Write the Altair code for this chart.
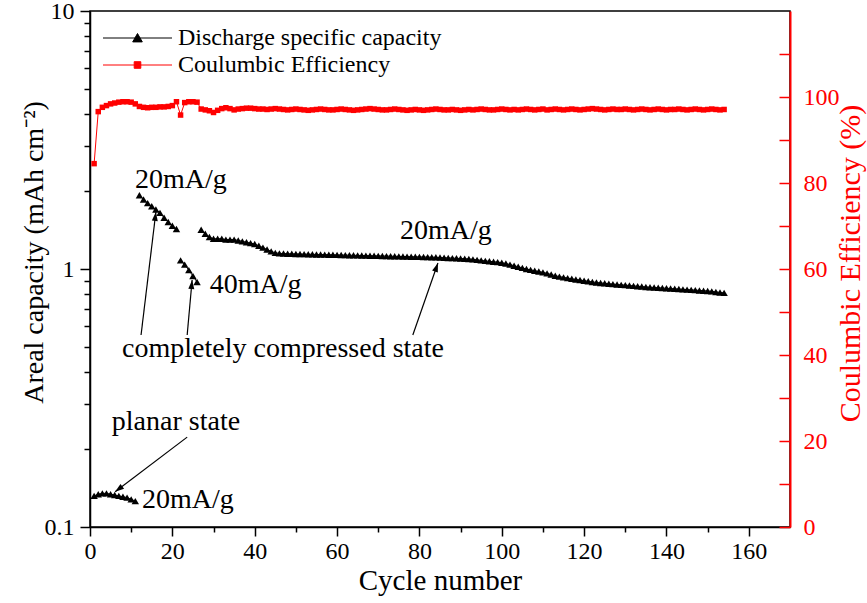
import math
import altair as alt
import pandas as pd

FONT = "Liberation Serif"

# ---------------- data ----------------
planar_cycles = list(range(1, 12))
planar_cap = [0.132, 0.134, 0.135, 0.135, 0.134, 0.133, 0.132, 0.131, 0.130, 0.128, 0.126]

comp1_cycles = list(range(12, 22))
comp1_cap = [1.93, 1.86, 1.80, 1.75, 1.70, 1.65, 1.58, 1.52, 1.47, 1.43]

comp40_cycles = list(range(22, 27))
comp40_cap = [1.08, 1.04, 0.99, 0.94, 0.89]

comp2_cycles = list(range(27, 155))
comp2_cap = [
    1.42, 1.37, 1.33, 1.31, 1.31, 1.31, 1.30, 1.30, 1.30, 1.29,
    1.28, 1.27, 1.26, 1.25, 1.23, 1.21, 1.19, 1.17, 1.155, 1.15,
    1.148, 1.146, 1.145, 1.144, 1.143, 1.142, 1.141, 1.140, 1.139, 1.138,
    1.137, 1.136, 1.135, 1.134, 1.133, 1.132, 1.131, 1.130, 1.129, 1.128,
    1.127, 1.126, 1.125, 1.124, 1.123, 1.122, 1.121, 1.120, 1.119, 1.118,
    1.117, 1.116, 1.115, 1.114, 1.113, 1.112, 1.111, 1.110, 1.108, 1.106,
    1.104, 1.102, 1.100, 1.098, 1.096, 1.094, 1.090, 1.085, 1.080, 1.075,
    1.071, 1.067, 1.063, 1.058, 1.050, 1.040, 1.030, 1.020, 1.010, 1.000,
    0.992, 0.985, 0.978, 0.970, 0.962, 0.952, 0.942, 0.934, 0.928, 0.922,
    0.916, 0.911, 0.906, 0.901, 0.896, 0.891, 0.887, 0.883, 0.880, 0.877,
    0.874, 0.871, 0.868, 0.866, 0.863, 0.860, 0.857, 0.855, 0.852, 0.850,
    0.848, 0.846, 0.844, 0.842, 0.840, 0.838, 0.836, 0.834, 0.832, 0.830,
    0.828, 0.826, 0.824, 0.822, 0.819, 0.815, 0.811, 0.808,
]

ce_cycles = list(range(1, 155))
ce_values = [
    84.5, 96.6, 97.6, 98.0, 98.4, 98.6, 98.8, 98.9, 98.9, 98.8,
    98.4, 97.8, 97.6, 97.5, 97.6, 97.6, 97.7, 97.7, 97.8, 98.0,
    98.9, 95.8, 98.7, 98.9, 98.9, 98.8, 97.2, 97.0, 96.8, 96.4,
    96.9, 97.3, 97.5, 97.3, 97.0, 97.2,
    97.3, 97.4, 97.4, 97.3, 97.2, 97.2, 97.1, 97.2, 97.3, 97.2,
    97.1, 97.0, 97.1, 97.2, 97.1, 97.0, 96.9, 97.0, 97.1, 97.2,
    97.1, 97.0, 97.0, 97.1, 97.2, 97.1, 97.0, 96.9, 97.0, 97.1,
    97.2, 97.3, 97.2, 97.1, 97.0, 97.0, 97.1, 97.2, 97.1, 97.0,
    96.9, 97.0, 97.1, 97.0, 96.9, 97.0, 97.1, 97.2, 97.1, 97.0,
    97.0, 97.1, 97.0, 96.9, 97.0, 97.1, 97.0, 97.1, 97.2, 97.1,
    97.0, 97.0, 97.1, 97.2, 97.1, 97.0, 97.1, 97.0, 97.1, 97.2,
    97.1, 97.0, 97.1, 97.2, 97.0, 97.1, 97.2, 97.1, 97.0, 97.1,
    97.2, 97.1, 97.0, 97.1, 97.2, 97.3, 97.2, 97.1, 97.0, 97.1,
    97.2, 97.1, 97.1, 97.2, 97.1, 97.0, 97.1, 97.2, 97.1, 97.0,
    97.1, 97.2, 97.1, 97.0, 97.1, 97.1, 97.2, 97.1, 97.0, 97.1,
    97.2, 97.1, 97.0, 97.1, 97.2, 97.1, 97.0, 97.1,
]

CAP_NAME = "Discharge specific capacity"
CE_NAME = "Coulumbic Efficiency"

# annotations (data coordinates: cycle, capacity)
ann_text = ["20mA/g", "40mA/g", "20mA/g", "completely compressed state", "planar state", "20mA/g"]
ann_x = [10.9, 29.1, 75.3, 7.8, 5.3, 12.6]
ann_y = [2.06, 0.807, 1.307, 0.456, 0.238, 0.1185]

arrow_x1 = [12.4, 23.6, 78.4, 23.6]
arrow_y1 = [0.555, 0.555, 0.555, 0.223]
arrow_x2 = [16.0, 24.8, 84.5, 6.1]
arrow_y2 = [1.663, 0.907, 1.055, 0.137]

# ---------------- layout ----------------
W, H = 700, 516
XMAX = 170

cap_rows = []
for seg, (cs, vs) in enumerate([(planar_cycles, planar_cap), (comp1_cycles, comp1_cap),
                                (comp40_cycles, comp40_cap), (comp2_cycles, comp2_cap)]):
    for c, v in zip(cs, vs):
        cap_rows.append({"cycle": c, "cap": v, "segment": seg, "series": CAP_NAME})
cap_df = pd.DataFrame(cap_rows)
ce_df = pd.DataFrame({"cycle": ce_cycles, "ce": ce_values, "series": CE_NAME})

def px_x(c):
    return c / XMAX * W

def px_y(v):
    return H * (1 - (math.log10(v) + 1) / 2)

arrow_angle = []
for x1, y1, x2, y2 in zip(arrow_x1, arrow_y1, arrow_x2, arrow_y2):
    dx = px_x(x2) - px_x(x1)
    dy = px_y(y2) - px_y(y1)
    arrow_angle.append(math.degrees(math.atan2(dx, -dy)) % 360)

ann_df = pd.DataFrame({"x": ann_x, "y": ann_y, "text": ann_text})
arrow_df = pd.DataFrame({"x1": arrow_x1, "y1": arrow_y1, "x2": arrow_x2,
                         "y2": arrow_y2, "angle": arrow_angle})

xscale = alt.Scale(domain=[0, XMAX], nice=False, zero=False)
yscale = alt.Scale(type="log", domain=[0.1, 10], nice=False)
cescale = alt.Scale(domain=[0, 120], nice=False, zero=False)

x_axis = alt.Axis(orient="bottom", values=list(range(0, 161, 20)), title="Cycle number",
                  tickSize=9, tickWidth=1.5, domainWidth=1.5, labelFlush=False,
                  labelPadding=3, labelFont=FONT, labelFontSize=24,
                  titleFont=FONT, titleFontSize=29, titleFontWeight="normal",
                  titleBaseline="alphabetic", titleY=62, grid=False, labelOverlap=False)
y_axis = alt.Axis(orient="left", values=[0.1, 1, 10], format="~g",
                  title="Areal capacity (mAh cm\u207b\u00b2)",
                  tickSize=10, tickWidth=1.5, domainWidth=1.5, labelFlush=False,
                  labelPadding=6, labelFont=FONT, labelFontSize=24,
                  titleFont=FONT, titleFontSize=28, titleFontWeight="normal", titleAngle=270,
                  titleX=-56, titleY=241, titleAlign="center", titleBaseline="middle",
                  grid=False, labelOverlap=False)

def X(field):
    return alt.X(f"{field}:Q", scale=xscale, axis=x_axis)

def Y(field):
    return alt.Y(f"{field}:Q", scale=yscale, axis=y_axis)

TRI_PATH = "M-5.75,0H5.75M-0.8,0.65L0,-0.75L0.8,0.65Z"
SQ_PATH = "M-5.75,0H5.75M-0.55,-0.55H0.55V0.55H-0.55Z"

def legend(ypos, path, col):
    return alt.Legend(title=None, orient="none", legendX=35.5, legendY=ypos,
                      symbolType=path, symbolSize=144, symbolStrokeWidth=1,
                      symbolFillColor=col, symbolStrokeColor=col, labelFont=FONT,
                      labelFontSize=24, labelOffset=28.5, labelLimit=0, padding=0,
                      labelColor="black")

cap_line = alt.Chart(cap_df).mark_line(
    strokeWidth=1,
    point=alt.OverlayMarkDef(shape="triangle-up", size=55, filled=True, opacity=1),
).encode(
    x=X("cycle"),
    y=Y("cap"),
    detail="segment:N",
    color=alt.Color("series:N", scale=alt.Scale(domain=[CAP_NAME], range=["black"]),
                    legend=legend(15, TRI_PATH, "black")),
)

ann_chart = alt.Chart(ann_df).mark_text(
    font=FONT, fontSize=28, align="left", baseline="alphabetic", color="black"
).encode(x=X("x"), y=Y("y"), text="text:N")

arrow_lines = alt.Chart(arrow_df).mark_rule(color="black", strokeWidth=1.2).encode(
    x=X("x1"), y=Y("y1"), x2="x2:Q", y2="y2:Q")

arrow_heads = alt.Chart(arrow_df).mark_point(
    shape="M0,0L-1,3L1,3Z", size=36, filled=True, color="black", opacity=1
).encode(x=X("x2"), y=Y("y2"), angle=alt.Angle("angle:Q", scale=None))

cap_group = alt.layer(cap_line, arrow_lines, arrow_heads, ann_chart)

ce_axis = alt.Axis(orient="right", offset=-11, domain=False, values=list(range(0, 111, 10)),
                   tickSize=11, tickWidth=1.5, tickColor="red", labelColor="red",
                   labelExpr="datum.value % 20 == 0 ? datum.label : ''",
                   labelPadding=13, labelFont=FONT, labelFontSize=24, labelFlush=False,
                   labelOverlap=False, title="Coulumbic Efficiency (%)", titleColor="red",
                   titleFont=FONT, titleFontSize=30, titleFontWeight="normal",
                   titleAngle=270, titleX=71, titleY=252, titleAlign="center",
                   titleBaseline="middle", grid=False)

ce_chart = alt.Chart(ce_df).mark_line(
    strokeWidth=1,
    point=alt.OverlayMarkDef(shape="square", size=30, filled=True, opacity=1),
).encode(
    x=alt.X("cycle:Q", scale=xscale, axis=None),
    y=alt.Y("ce:Q", scale=cescale, axis=ce_axis),
    color=alt.Color("series:N", scale=alt.Scale(domain=[CE_NAME], range=["red"]),
                    legend=legend(42, SQ_PATH, "red")),
)

minor_chart = alt.Chart(cap_df).mark_point(opacity=0).encode(
    x=alt.X("cycle:Q", scale=xscale,
            axis=alt.Axis(orient="bottom", values=list(range(10, 151, 20)), labels=False,
                          tickSize=5, tickWidth=1.5, domain=False, title=None, grid=False)),
    y=alt.Y("cap:Q", scale=yscale,
            axis=alt.Axis(orient="left",
                          values=[0.2, 0.3, 0.4, 0.5, 0.6, 0.7, 0.8, 0.9, 2, 3, 4, 5, 6, 7, 8, 9],
                          labels=False, tickSize=6, tickWidth=1.5, domain=False,
                          title=None, grid=False)),
)

red_domain = alt.Chart(ce_df).mark_point(opacity=0).encode(
    x=alt.X("cycle:Q", scale=xscale, axis=None),
    y=alt.Y("ce:Q", scale=cescale,
            axis=alt.Axis(orient="right", domain=True, domainColor="red", domainWidth=2,
                          ticks=False, labels=False, title=None, grid=False)),
)

chart = alt.layer(cap_group, ce_chart, minor_chart, red_domain).resolve_scale(
    x="independent", y="independent", color="independent"
).properties(
    width=W, height=H,
    autosize=alt.AutoSizeParams(type="none"),
    padding={"left": 90, "top": 11, "right": 77, "bottom": 76},
    background="white",
).configure(
    font=FONT
).configure_axis(
    labelFont=FONT, titleFont=FONT, titleFontWeight="normal",
    labelColor="black", titleColor="black", domainColor="black", tickColor="black",
).configure_view(
    stroke="black", strokeWidth=1.5
)

chart.save("out.html", embed_options={"renderer": "svg", "actions": False})
